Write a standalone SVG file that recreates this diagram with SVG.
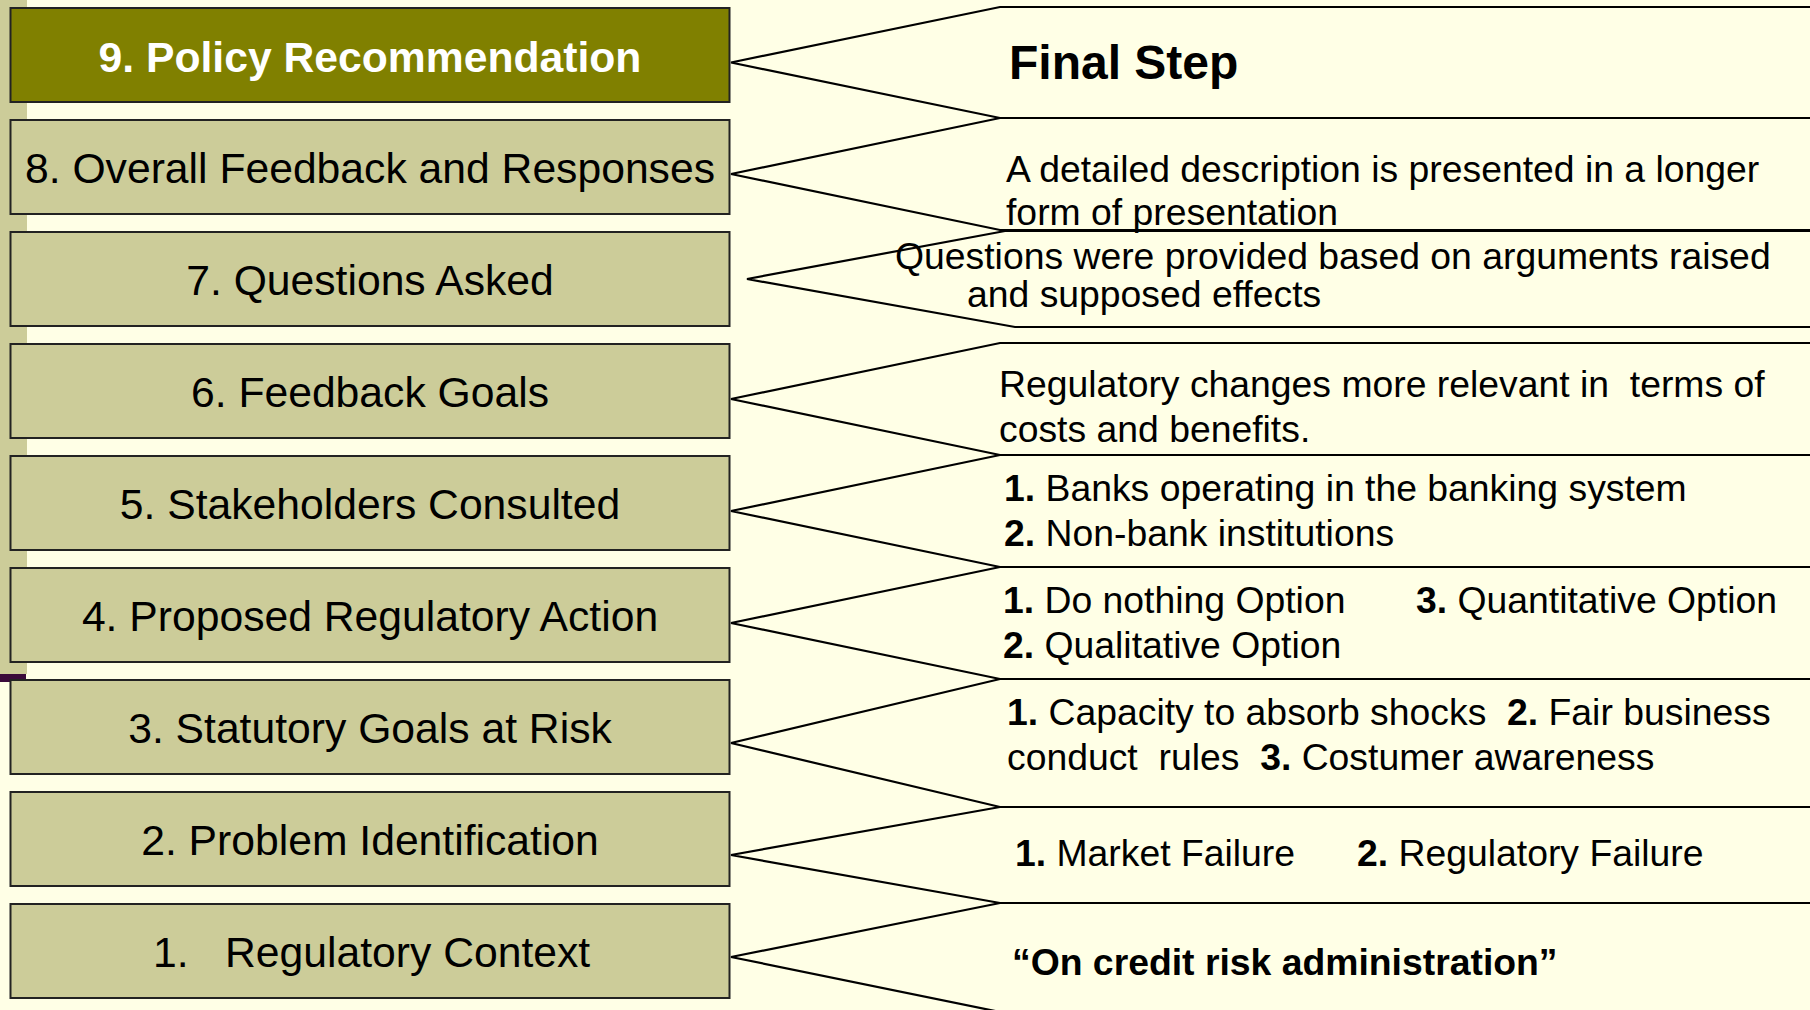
<svg xmlns="http://www.w3.org/2000/svg" width="1810" height="1010" viewBox="0 0 1810 1010">
  <style>
    .bg { fill: #FFFFE6; }
    .step { fill: #CCCC99; stroke: #222222; stroke-width: 2; }
    .step.final { fill: #808000; }
    .label { font-family: "Liberation Sans", Arial, sans-serif; font-size: 42.67px; fill: #000000; text-anchor: middle; white-space: pre; }
    .label.final { fill: #FFFFFF; font-weight: bold; }
    .panel { fill: none; stroke: #000000; stroke-width: 2.2; stroke-linejoin: miter; }
    .note { font-family: "Liberation Sans", Arial, sans-serif; font-size: 37.33px; fill: #000000; white-space: pre; }
    .b { font-weight: bold; }
  </style>

  <!-- background and side strip -->
  <rect class="bg" x="0" y="0" width="1810" height="1010"/>
  <rect x="0" y="0" width="27" height="674" fill="#CCCC99"/>
  <rect x="0" y="674" width="26" height="8" fill="#3A0A3A"/>

  <!-- callout panels linking each step to its description -->
  <g id="connectors">
    <path class="panel" d="M1810,7 H1000 L731,62.5 L1000,118 H1810"/>
    <path class="panel" d="M1810,118 H1000 L731,174 L1000,230 H1810"/>
    <path class="panel" d="M1810,231 H1005 L747,279 L1015,327 H1810"/>
    <path class="panel" d="M1810,343 H1000 L731,399 L1000,455 H1810"/>
    <path class="panel" d="M1810,455 H1000 L731,511 L1000,567 H1810"/>
    <path class="panel" d="M1810,567 H1000 L731,623 L1000,679 H1810"/>
    <path class="panel" d="M1810,679 H1000 L731,743 L1000,807 H1810"/>
    <path class="panel" d="M1810,807 H1000 L731,855 L1000,903 H1810"/>
    <path class="panel" d="M1810,903 H1000 L731,957 L1000,1012 H1810"/>
  </g>

  <!-- steps -->
  <g id="step9">
    <rect class="step final" x="10.5" y="8" width="719" height="94"/>
    <text class="label final" x="370" y="71.5">9. Policy Recommendation</text>
  </g>
  <g id="step8">
    <rect class="step" x="10.5" y="120" width="719" height="94"/>
    <text class="label" x="370" y="183">8. Overall Feedback and Responses</text>
  </g>
  <g id="step7">
    <rect class="step" x="10.5" y="232" width="719" height="94"/>
    <text class="label" x="370" y="295">7. Questions Asked</text>
  </g>
  <g id="step6">
    <rect class="step" x="10.5" y="344" width="719" height="94"/>
    <text class="label" x="370" y="407">6. Feedback Goals</text>
  </g>
  <g id="step5">
    <rect class="step" x="10.5" y="456" width="719" height="94"/>
    <text class="label" x="370" y="519">5. Stakeholders Consulted</text>
  </g>
  <g id="step4">
    <rect class="step" x="10.5" y="568" width="719" height="94"/>
    <text class="label" x="370" y="631">4. Proposed Regulatory Action</text>
  </g>
  <g id="step3">
    <rect class="step" x="10.5" y="680" width="719" height="94"/>
    <text class="label" x="370" y="743">3. Statutory Goals at Risk</text>
  </g>
  <g id="step2">
    <rect class="step" x="10.5" y="792" width="719" height="94"/>
    <text class="label" x="370" y="855">2. Problem Identification</text>
  </g>
  <g id="step1">
    <rect class="step" x="10.5" y="904" width="719" height="94"/>
    <text class="label" style="text-anchor:start" x="153" y="967">1.<tspan x="225">Regulatory Context</tspan></text>
  </g>

  <!-- descriptions -->
  <g id="desc9">
    <text class="note b" style="font-size:48px" x="1009" y="79">Final Step</text>
  </g>
  <g id="desc8">
    <text class="note" x="1006" y="182">A detailed description is presented in a longer</text>
    <text class="note" x="1006" y="224.5">form of presentation</text>
  </g>
  <g id="desc7">
    <text class="note" x="895" y="268.5">Questions were provided based on arguments raised</text>
    <text class="note" x="967" y="306.5">and supposed effects</text>
  </g>
  <g id="desc6">
    <text class="note" x="999" y="397">Regulatory changes more relevant in  terms of</text>
    <text class="note" x="999" y="442">costs and benefits.</text>
  </g>
  <g id="desc5">
    <text class="note" x="1004" y="501"><tspan class="b">1.</tspan> Banks operating in the banking system</text>
    <text class="note" x="1004" y="546"><tspan class="b">2.</tspan> Non-bank institutions</text>
  </g>
  <g id="desc4">
    <text class="note" x="1003" y="613"><tspan class="b">1.</tspan> Do nothing Option</text>
    <text class="note" x="1416" y="613"><tspan class="b">3.</tspan> Quantitative Option</text>
    <text class="note" x="1003" y="658"><tspan class="b">2.</tspan> Qualitative Option</text>
  </g>
  <g id="desc3">
    <text class="note" x="1007" y="725"><tspan class="b">1.</tspan> Capacity to absorb shocks  <tspan class="b">2.</tspan> Fair business</text>
    <text class="note" x="1007" y="770">conduct  rules  <tspan class="b">3.</tspan> Costumer awareness</text>
  </g>
  <g id="desc2">
    <text class="note" x="1015" y="866"><tspan class="b">1.</tspan> Market Failure</text>
    <text class="note" x="1357" y="866"><tspan class="b">2.</tspan> Regulatory Failure</text>
  </g>
  <g id="desc1">
    <text class="note b" x="1012" y="975">“On credit risk administration”</text>
  </g>
</svg>
